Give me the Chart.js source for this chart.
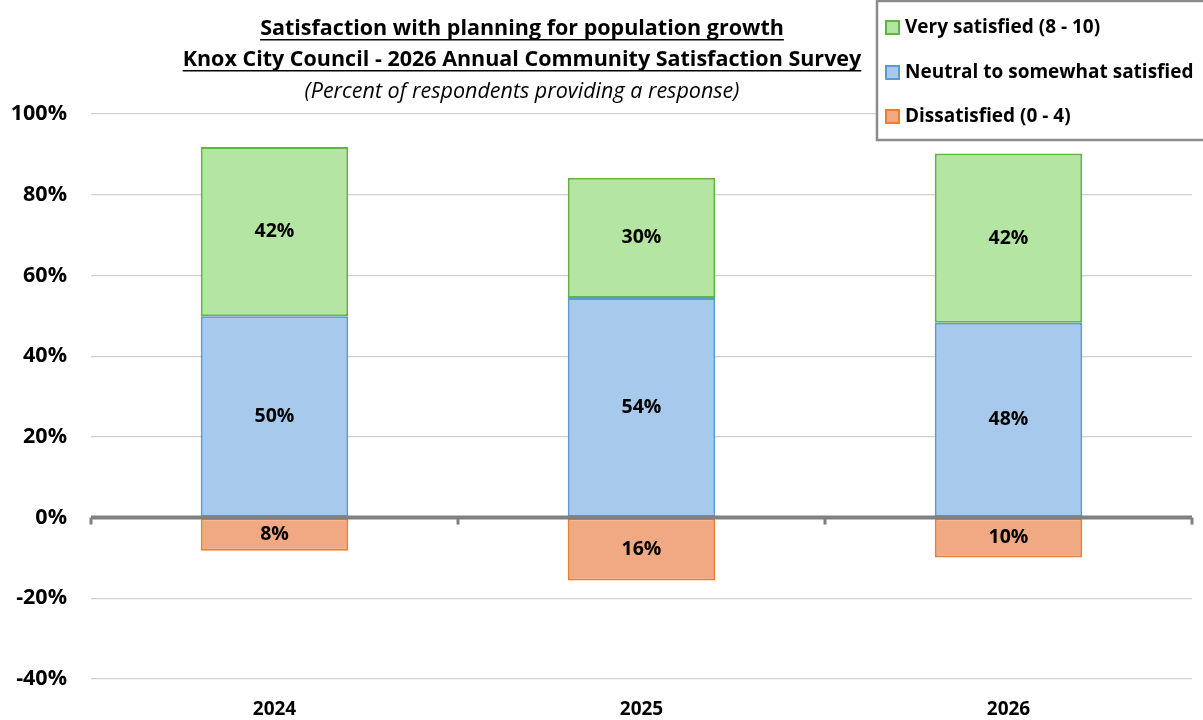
<!DOCTYPE html>
<html>
<head>
<meta charset="utf-8">
<script src="https://cdn.jsdelivr.net/npm/chart.js@4.4.1/dist/chart.umd.min.js"></script>
<style>
  html, body { margin: 0; padding: 0; background: #fff; }
  canvas { display: block; }
</style>
</head>
<body>
<canvas id="chart" width="1203" height="720"></canvas>
<script>
// ---------- data ----------
const years        = ['2024', '2025', '2026']
const neutral      = [49.9, 54.4, 48.3]
const verySatisfied = [41.9, 29.8, 41.9]
const dissatisfied = [-8.2, -15.6, -9.9]
const yTicks       = [-40, -20, 0, 20, 40, 60, 80, 100]

const titleLines = [
  'Satisfaction with planning for population growth',
  'Knox City Council - 2026 Annual Community Satisfaction Survey',
  '(Percent of respondents providing a response)'
]

const FONT = '"Open Sans", sans-serif'

// ---------- plugins ----------
const titlePlugin = {
  id: 'titleText',
  afterDraw(chart) {
    const ctx = chart.ctx
    const cx = 522
    ctx.save()
    ctx.fillStyle = '#000'
    ctx.textAlign = 'center'
    ctx.textBaseline = 'middle'
    const ys = [29, 60, 92]
    titleLines.forEach((t, i) => {
      ctx.font = i < 2 ? `bold 21.5px ${FONT}` : `italic 21.5px ${FONT}`
      ctx.fillText(t, cx, ys[i])
      if (i < 2) {
        const w = ctx.measureText(t).width
        ctx.fillRect(cx - w / 2, ys[i] + 10, w, 1.5)
      }
    })
    ctx.restore()
  }
}

const labelPlugin = {
  id: 'barLabels',
  afterDatasetsDraw(chart) {
    const ctx = chart.ctx
    ctx.save()
    ctx.font = `bold 19.5px ${FONT}`
    ctx.fillStyle = '#000'
    ctx.textAlign = 'center'
    ctx.textBaseline = 'middle'
    chart.data.datasets.forEach((ds, di) => {
      chart.getDatasetMeta(di).data.forEach((bar, i) => {
        const v = ds.data[i]
        const y = (bar.y + bar.base) / 2
        ctx.fillText(Math.round(Math.abs(v)) + '%', bar.x, y)
      })
    })
    ctx.restore()
  }
}

const zeroTicksPlugin = {
  id: 'zeroTicks',
  afterDatasetsDraw(chart) {
    const { ctx, chartArea, scales } = chart
    const y0 = scales.y.getPixelForValue(0)
    const step = (chartArea.right - chartArea.left) / years.length
    ctx.save()
    ctx.strokeStyle = '#808080'
    ctx.lineWidth = 4
    ctx.beginPath()
    ctx.moveTo(chartArea.left, y0)
    ctx.lineTo(chartArea.right, y0)
    ctx.stroke()
    ctx.lineWidth = 3
    for (let i = 0; i <= years.length; i++) {
      const x = chartArea.left + step * i
      ctx.beginPath()
      ctx.moveTo(x, y0)
      ctx.lineTo(x, y0 + 7)
      ctx.stroke()
    }
    ctx.restore()
  }
}

const legendPlugin = {
  id: 'boxLegend',
  afterDraw(chart) {
    const ctx = chart.ctx
    const order = [1, 0, 2]
    const rows = [28, 73, 117]
    ctx.save()
    ctx.fillStyle = '#fff'
    ctx.fillRect(877, 1, 340, 139)
    ctx.strokeStyle = '#8c8c8c'
    ctx.lineWidth = 2.5
    ctx.strokeRect(877, 1, 340, 139)
    ctx.font = `bold 19px ${FONT}`
    ctx.textBaseline = 'middle'
    ctx.textAlign = 'left'
    order.forEach((di, r) => {
      const ds = chart.data.datasets[di]
      ctx.fillStyle = ds.backgroundColor
      ctx.fillRect(886, rows[r] - 7, 13, 13)
      ctx.strokeStyle = ds.borderColor
      ctx.lineWidth = 2
      ctx.strokeRect(886, rows[r] - 7, 13, 13)
      ctx.fillStyle = '#000'
      ctx.fillText(ds.label, 905, rows[r])
    })
    ctx.restore()
  }
}

// ---------- chart ----------
new Chart(document.getElementById('chart'), {
  type: 'bar',
  data: {
    labels: years,
    datasets: [
      {
        label: 'Neutral to somewhat satisfied',
        data: neutral,
        backgroundColor: '#a7caec',
        borderColor: '#5b9bd5',
        borderWidth: 2, borderSkipped: false,
      },
      {
        label: 'Very satisfied (8 - 10)',
        data: verySatisfied,
        backgroundColor: '#b5e5a2',
        borderColor: '#5fb540',
        borderWidth: 2, borderSkipped: false,
      },
      {
        label: 'Dissatisfied (0 - 4)',
        data: dissatisfied,
        backgroundColor: '#f1a983',
        borderColor: '#ed7d31',
        borderWidth: 2, borderSkipped: false,
      },
    ]
  },
  options: {
    responsive: false,
    animation: false,
    layout: { padding: { top: 114, right: 11, left: 0, bottom: 0 } },
    datasets: { bar: { barPercentage: 0.402, categoryPercentage: 1.0 } },
    plugins: {
      legend: { display: false },
      title: { display: false },
      tooltip: { enabled: false }
    },
    scales: {
      x: {
        stacked: true,
        grid: { display: false, drawTicks: false },
        border: { display: false },
        ticks: { color: '#000', font: { family: FONT, size: 19, weight: 'bold' }, padding: 19 },
        afterFit: s => { s.height = 41 }
      },
      y: {
        stacked: true,
        min: -40, max: 100,
        afterBuildTicks: s => { s.ticks = yTicks.map(v => ({ value: v })) },
        grid: { color: '#d0d0d0', lineWidth: 1.2, drawTicks: false },
        border: { display: false },
        ticks: {
          color: '#000',
          font: { family: FONT, size: 21.5, weight: 'bold' },
          padding: 24,
          callback: v => v + '%'
        },
        afterFit: s => { s.width = 91 }
      }
    }
  },
  plugins: [titlePlugin, labelPlugin, zeroTicksPlugin, legendPlugin]
})
</script>
</body>
</html>
